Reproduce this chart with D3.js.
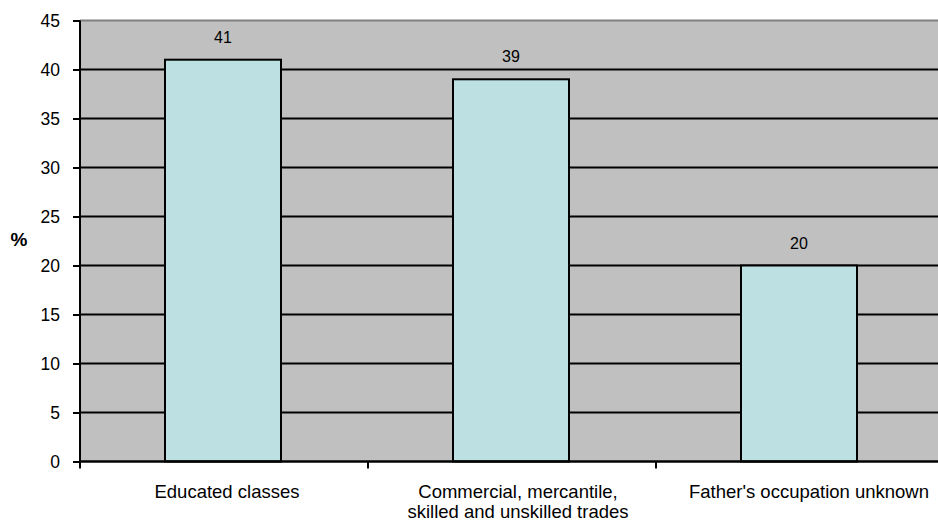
<!DOCTYPE html>
<html>
<head>
<meta charset="utf-8">
<script src="https://cdn.jsdelivr.net/npm/d3@7"></script>
<style>
  body { margin: 0; background: #fff; }
  svg { display: block; font-family: "Liberation Sans", Arial, sans-serif; }
</style>
</head>
<body>
<div class="container"></div>
<script>
// datos
const categories = ["Educated classes", "Commercial, mercantile,\nskilled and unskilled trades", "Father's occupation unknown"]
const values = [41, 39, 20]
const yTicks = [0, 5, 10, 15, 20, 25, 30, 35, 40, 45]

const width = 938
const height = 521
const margin = { top: 20.5, bottom: 59.5, left: 80, right: -6 }

const svg = d3.select(".container").append("svg").attr("width", width).attr("height", height)
const plotGroup = svg.append("g").attr("id", "plotGroup")
const elementGroup = svg.append("g").attr("id", "elementGroup")
const axisGroup = svg.append("g").attr("id", "axisGroup")

let x = d3.scaleBand().domain(categories).range([margin.left, width - margin.right]).paddingInner(0).paddingOuter(0)
let y = d3.scaleLinear().domain([0, 45]).range([height - margin.bottom, margin.top])

// fondo
plotGroup.append("rect")
  .attr("x", margin.left).attr("y", margin.top)
  .attr("width", width - margin.right - margin.left)
  .attr("height", y(0) - margin.top)
  .style("fill", "#c0c0c0")

// rejilla
plotGroup.selectAll("line.grid").data(yTicks.filter(d => d > 0 && d < 45))
  .join("line")
  .attr("class", "grid")
  .attr("x1", margin.left).attr("x2", width - margin.right)
  .attr("y1", d => y(d)).attr("y2", d => y(d))
  .style("stroke", "#000").style("stroke-width", 2)

plotGroup.append("line")
  .attr("x1", margin.left).attr("x2", width - margin.right)
  .attr("y1", y(45)).attr("y2", y(45))
  .style("stroke", "#808080").style("stroke-width", 2)

// barras
const barW = 116
elementGroup.selectAll("rect").data(categories)
  .join("rect")
  .attr("x", d => x(d) + x.bandwidth() / 2 - barW / 2 - 1)
  .attr("y", (d, i) => y(values[i]))
  .attr("width", barW)
  .attr("height", (d, i) => y(0) - y(values[i]))
  .style("fill", "#bde0e3")
  .style("stroke", "#000")
  .style("stroke-width", 2)

elementGroup.selectAll("text").data(categories)
  .join("text")
  .attr("x", d => x(d) + x.bandwidth() / 2 - 1)
  .attr("y", (d, i) => y(values[i]) - 17)
  .style("text-anchor", "middle")
  .style("font-size", "16px")
  .text((d, i) => values[i])

// ejes
const yAxis = d3.axisLeft(y).tickValues(yTicks).tickSize(7).tickPadding(13)
const yAxisGroup = axisGroup.append("g").attr("transform", `translate(${margin.left}, 0)`).call(yAxis)
yAxisGroup.select(".domain").attr("d", `M0,${y(45)}V${y(0)}`).style("stroke-width", 2)
yAxisGroup.selectAll(".tick line").style("stroke-width", 2)
yAxisGroup.selectAll(".tick text").style("font-size", "17.5px").style("fill", "#000").attr("dy", "0.35em")

const xAxisGroup = axisGroup.append("g").attr("transform", `translate(0, ${y(0)})`)
xAxisGroup.append("line")
  .attr("x1", margin.left).attr("x2", width - margin.right)
  .style("stroke", "#000").style("stroke-width", 2.5)
xAxisGroup.selectAll("line.tick").data(categories)
  .join("line")
  .attr("class", "tick")
  .attr("x1", d => x(d)).attr("x2", d => x(d))
  .attr("y1", 0).attr("y2", 7)
  .style("stroke", "#000").style("stroke-width", 2)

// etiquetas en dos lineas: un text por linea
categories.forEach((d, i) => {
  const cx = x(d) + x.bandwidth() / 2 + 3 + 3 * i
  d.split("\n").forEach((line, j) => {
    xAxisGroup.append("text")
      .attr("x", cx)
      .attr("y", 36 + j * 20)
      .style("text-anchor", "middle")
      .style("font-size", "18.5px")
      .text(line)
  })
})

svg.append("text")
  .attr("x", 19).attr("y", 246)
  .style("text-anchor", "middle")
  .style("font-weight", 700)
  .style("font-size", "19px")
  .text("%")
</script>
</body>
</html>
